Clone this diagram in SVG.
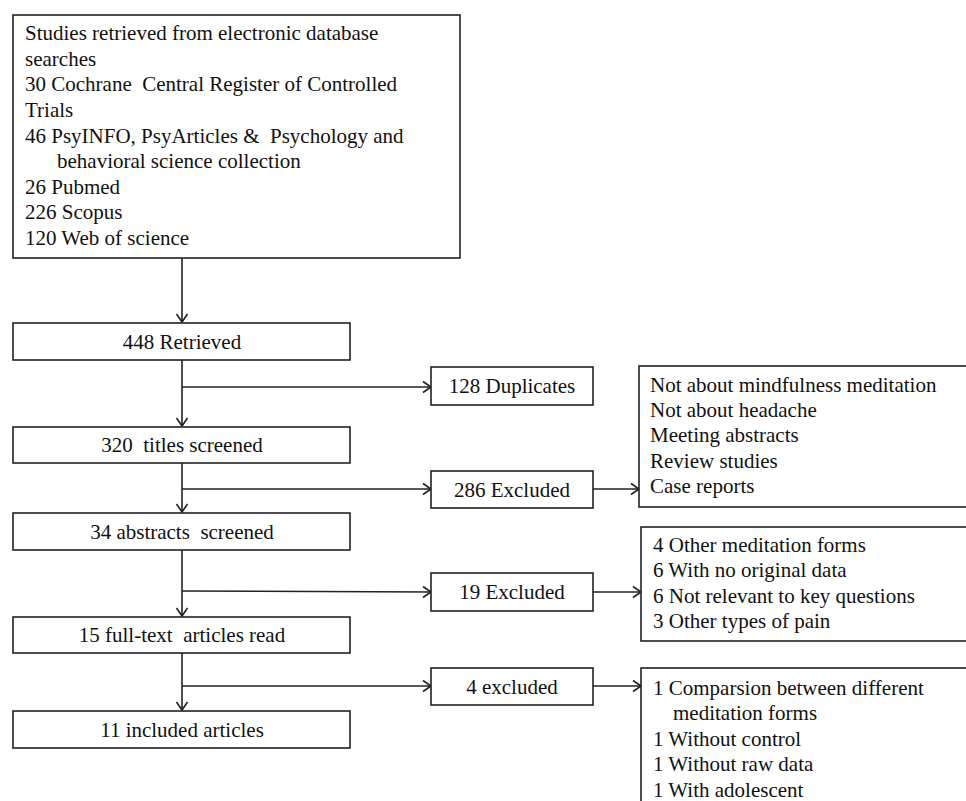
<svg xmlns="http://www.w3.org/2000/svg" width="966" height="801" viewBox="0 0 966 801">
<defs>
<style>
.box{fill:#fff;stroke:#222;stroke-width:1.6}
.t{font-family:"Liberation Serif","Times New Roman",serif;font-size:21px;fill:#111}
.c{text-anchor:middle}
.ln{fill:none;stroke:#222;stroke-width:1.6}
</style>
<marker id="ah" markerUnits="userSpaceOnUse" markerWidth="12" markerHeight="14" viewBox="-10 -7 12 14" refX="0" refY="0" orient="auto">
<path d="M-8,-5.5 L0,0 L-8,5.5" fill="none" stroke="#222" stroke-width="1.6"/>
</marker>
</defs>
<rect width="966" height="801" fill="#fff"/>
<g id="connectors">
<line class="ln" x1="182" y1="258" x2="182" y2="322" marker-end="url(#ah)"/>
<line class="ln" x1="182" y1="360" x2="182" y2="426" marker-end="url(#ah)"/>
<line class="ln" x1="182" y1="387" x2="431" y2="387" marker-end="url(#ah)"/>
<line class="ln" x1="182" y1="463" x2="182" y2="512" marker-end="url(#ah)"/>
<line class="ln" x1="182" y1="489" x2="431" y2="489" marker-end="url(#ah)"/>
<line class="ln" x1="593" y1="489" x2="639" y2="489" marker-end="url(#ah)"/>
<line class="ln" x1="182" y1="550" x2="182" y2="616" marker-end="url(#ah)"/>
<line class="ln" x1="182" y1="591" x2="431" y2="592" marker-end="url(#ah)"/>
<line class="ln" x1="593" y1="592" x2="641" y2="592" marker-end="url(#ah)"/>
<line class="ln" x1="182" y1="653" x2="182" y2="710" marker-end="url(#ah)"/>
<line class="ln" x1="182" y1="686" x2="431" y2="686" marker-end="url(#ah)"/>
<line class="ln" x1="593" y1="686" x2="641" y2="686" marker-end="url(#ah)"/>
</g>
<g id="n-search">
<rect class="box" x="13" y="15" width="447" height="243"/>
<text class="t" x="25" y="40">Studies retrieved from electronic database</text>
<text class="t" x="25" y="66">searches</text>
<text class="t" x="25" y="91" xml:space="preserve">30 Cochrane  Central Register of Controlled</text>
<text class="t" x="25" y="117">Trials</text>
<text class="t" x="25" y="143" xml:space="preserve">46 PsyINFO, PsyArticles &amp;  Psychology and</text>
<text class="t" x="57" y="168">behavioral science collection</text>
<text class="t" x="25" y="194">26 Pubmed</text>
<text class="t" x="25" y="219">226 Scopus</text>
<text class="t" x="25" y="245">120 Web of science</text>
</g>
<g id="n-retrieved">
<rect class="box" x="13" y="323" width="337" height="37"/>
<text class="t c" x="182" y="349">448 Retrieved</text>
</g>
<g id="n-duplicates">
<rect class="box" x="431" y="367" width="162" height="38"/>
<text class="t c" x="512" y="393">128 Duplicates</text>
</g>
<g id="n-titles">
<rect class="box" x="13" y="427" width="337" height="36"/>
<text class="t c" x="182" y="452" xml:space="preserve">320  titles screened</text>
</g>
<g id="n-excl1">
<rect class="box" x="431" y="471" width="162" height="37"/>
<text class="t c" x="512" y="497">286 Excluded</text>
</g>
<g id="n-reasons1">
<rect class="box" x="639" y="366" width="340" height="141"/>
<text class="t" x="650" y="392">Not about mindfulness meditation</text>
<text class="t" x="650" y="417">Not about headache</text>
<text class="t" x="650" y="442">Meeting abstracts</text>
<text class="t" x="650" y="468">Review studies</text>
<text class="t" x="650" y="493">Case reports</text>
</g>
<g id="n-abstracts">
<rect class="box" x="13" y="513" width="337" height="37"/>
<text class="t c" x="182" y="539" xml:space="preserve">34 abstracts  screened</text>
</g>
<g id="n-excl2">
<rect class="box" x="431" y="573" width="162" height="38"/>
<text class="t c" x="512" y="599">19 Excluded</text>
</g>
<g id="n-reasons2">
<rect class="box" x="641" y="527" width="340" height="114"/>
<text class="t" x="653" y="552">4 Other meditation forms</text>
<text class="t" x="653" y="577">6 With no original data</text>
<text class="t" x="653" y="603">6 Not relevant to key questions</text>
<text class="t" x="653" y="628">3 Other types of pain</text>
</g>
<g id="n-fulltext">
<rect class="box" x="13" y="617" width="337" height="36"/>
<text class="t c" x="182" y="642" xml:space="preserve">15 full-text  articles read</text>
</g>
<g id="n-excl3">
<rect class="box" x="431" y="668" width="162" height="37"/>
<text class="t c" x="512" y="694">4 excluded</text>
</g>
<g id="n-reasons3">
<rect class="box" x="641" y="668" width="340" height="150"/>
<text class="t" x="653" y="695">1 Comparsion between different</text>
<text class="t" x="673" y="720">meditation forms</text>
<text class="t" x="653" y="746">1 Without control</text>
<text class="t" x="653" y="771">1 Without raw data</text>
<text class="t" x="653" y="797">1 With adolescent</text>
</g>
<g id="n-included">
<rect class="box" x="13" y="711" width="337" height="37"/>
<text class="t c" x="182" y="737">11 included articles</text>
</g>
</svg>
